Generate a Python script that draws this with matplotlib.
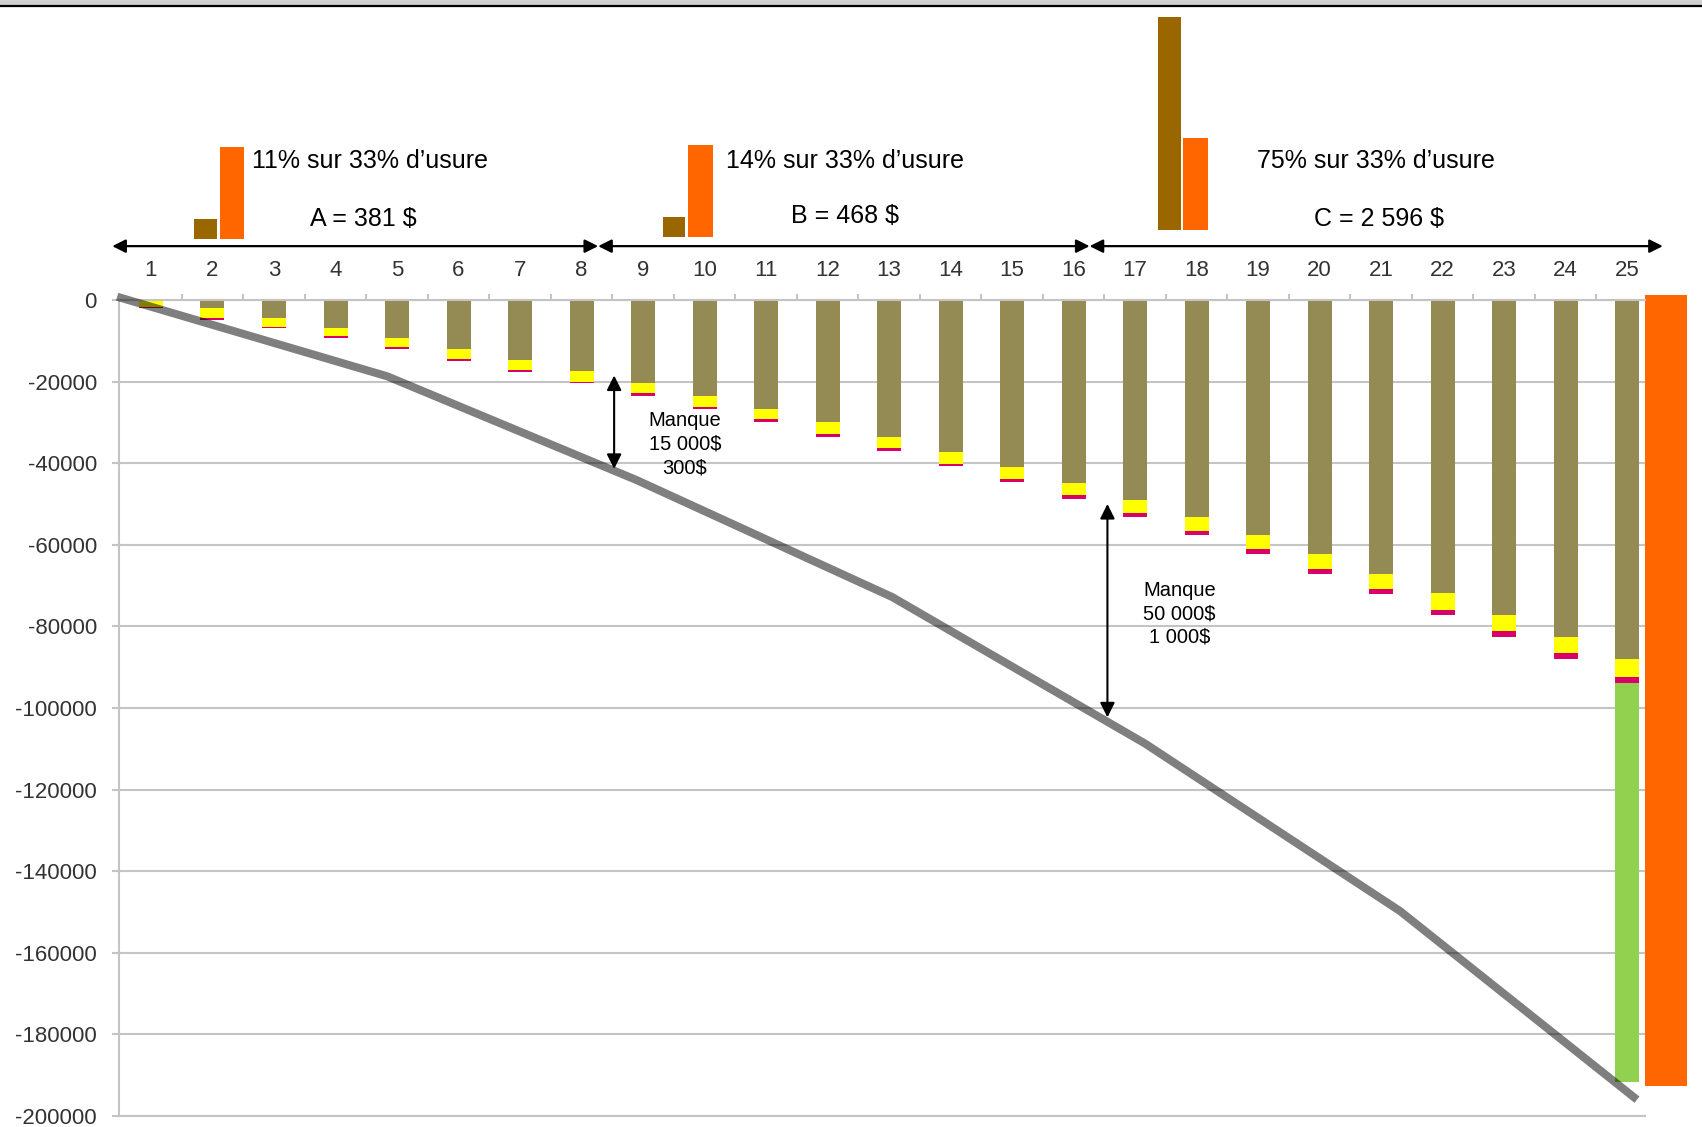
import matplotlib.pyplot as plt
import numpy as np

plt.rcParams['font.family'] = ['Liberation Sans', 'DejaVu Sans']

# years
years = np.arange(1, 26)

# stacked levels (each piece ends at these values)
olive_end = [0, -1900, -4400, -6800, -9300, -12000, -14800, -17500, -20300, -23500,
             -26700, -30000, -33600, -37200, -40900, -44900, -48900, -53100, -57600,
             -62200, -67100, -71900, -77100, -82600, -87900]
yellow_end = [-1800, -4400, -6500, -8900, -11600, -14500, -17200, -20000, -22900, -26200,
              -29200, -32800, -36300, -40300, -43900, -47900, -52200, -56500, -61000,
              -65900, -70800, -75900, -81200, -86600, -92300]
magenta_end = [-1900, -4800, -6800, -9400, -12100, -14900, -17600, -20400, -23500, -26600,
               -29900, -33500, -37100, -40800, -44700, -48700, -53100, -57600, -62200,
               -67100, -72000, -77100, -82600, -88100, -93900]

# extra pieces at the last year
green_end = -191700
orange_end = -192600

# grey cumulative line
line_x = [0.45, 4.84, 8.89, 13.05, 17.16, 21.31, 25.16]
line_y = [800, -18700, -44100, -72800, -108700, -149800, -196000]

# small bars above each period
periods = ['A', 'B', 'C']
mini_brown = [4800, 4900, 52200]
mini_orange = [22400, 22500, 22600]

yticks = np.arange(0, -200001, -20000)

fig = plt.figure(figsize=(17.02, 11.27), dpi=100)
ax = fig.add_axes([119 / 1702, 1 - 1116 / 1127, (1645 - 119) / 1702, (1116 - 300) / 1127])

grid_c = '#C4C4C4'
txt_c = '#333333'

# stacked bars
olive = np.array(olive_end)
yellow = np.array(yellow_end)
magenta = np.array(magenta_end)
ax.bar(years, olive, width=0.39, color='#948A54', zorder=2)
ax.bar(years, yellow - olive, bottom=olive, width=0.39, color='#FFFF00', zorder=2)
ax.bar(years, magenta - yellow, bottom=yellow, width=0.39, color='#D9006C', zorder=2)
ax.bar(years[-1], green_end - magenta[-1], bottom=magenta[-1], width=0.39,
       color='#92D050', zorder=2)
ax.bar(25.63, orange_end - 1200, bottom=1200, width=0.67, color='#FF6600',
       zorder=2, clip_on=False)

# grey line
ax.plot(line_x, line_y, color='black', alpha=0.5, lw=5.8, solid_capstyle='butt',
        solid_joinstyle='round', zorder=3, clip_on=False)

# small bars at the top
groups = [2.1, 9.72, 17.77]
bases = [15000, 15400, 17200]
for g, b, br, orv in zip(groups, bases, mini_brown, mini_orange):
    ax.bar(g - 0.215, br, bottom=b, width=0.37, color='#996600', clip_on=False)
    ax.bar(g + 0.215, orv, bottom=b, width=0.40, color='#FF6600', clip_on=False)

# period arrows
arrow_y = 13200
for x0, x1 in [(0.37, 8.27), (8.27, 16.26), (16.26, 25.58)]:
    ax.annotate('', xy=(x0, arrow_y), xytext=(x1, arrow_y), annotation_clip=False,
                arrowprops=dict(arrowstyle='<|-|>', color='black', lw=1.6,
                                mutation_scale=20, shrinkA=0, shrinkB=0))

ax.text(2.64, 34100, '11% sur 33% d’usure', ha='left', va='center', fontsize=18)
ax.text(4.46, 19800, 'A = 381 $', ha='center', va='center', fontsize=18)
ax.text(10.35, 34100, '14% sur 33% d’usure', ha='left', va='center', fontsize=18)
ax.text(12.28, 20600, 'B = 468 $', ha='center', va='center', fontsize=18)
ax.text(18.98, 34100, '75% sur 33% d’usure', ha='left', va='center', fontsize=18)
ax.text(20.96, 19800, 'C = 2 596 $', ha='center', va='center', fontsize=18)

# gap arrows
for x, y0, y1 in [(8.53, -18500, -41400), (16.55, -50000, -102300)]:
    ax.annotate('', xy=(x, y0), xytext=(x, y1),
                arrowprops=dict(arrowstyle='<|-|>', color='black', lw=1.5,
                                mutation_scale=22, shrinkA=0, shrinkB=0), zorder=4)
ax.text(9.68, -35300, 'Manque\n15 000$\n300$', ha='center', va='center',
        fontsize=14.5, linespacing=1.3)
ax.text(17.72, -76900, 'Manque\n50 000$\n1 000$', ha='center', va='center',
        fontsize=14.5, linespacing=1.3)

# axes styling
ax.set_xlim(0.48, 25.29)
ax.set_ylim(-200000, 0)
ax.set_yticks(yticks)
ax.set_yticklabels([str(v) for v in yticks])
ax.set_xticks(years)
ax.set_xticklabels([str(v) for v in years])
ax.set_xticks(np.arange(1.5, 25, 1), minor=True)
ax.xaxis.set_ticks_position('top')
ax.tick_params(axis='x', which='major', length=0, pad=14, labelsize=16, labelcolor=txt_c)
ax.tick_params(axis='x', which='minor', length=4, width=1.5, color=grid_c, direction='out')
ax.tick_params(axis='y', length=5, width=1.5, color=grid_c, pad=11, labelsize=16,
               labelcolor=txt_c)
ax.grid(axis='y', color=grid_c, lw=1.5)
ax.set_axisbelow(True)
for s in ['right']:
    ax.spines[s].set_visible(False)
for s in ['left', 'top', 'bottom']:
    ax.spines[s].set_color(grid_c)
    ax.spines[s].set_linewidth(1.5)

# frame line at the very top of the picture
fig.patches.append(plt.Rectangle((0, 1 - 5 / 1127), 1, 5 / 1127, transform=fig.transFigure,
                                 color='#D0D0D0', zorder=0))
fig.add_artist(plt.Line2D([0, 1], [1 - 6 / 1127, 1 - 6 / 1127], transform=fig.transFigure,
                          color='black', lw=1.6))

fig.savefig('out.png', dpi=100)
